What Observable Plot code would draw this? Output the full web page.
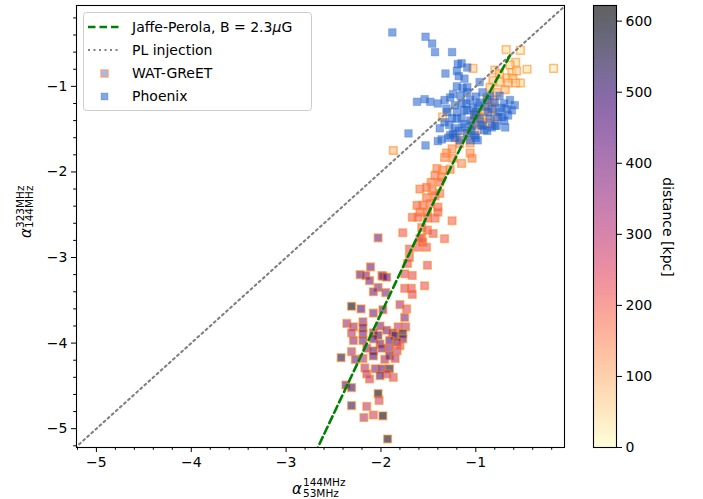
<!DOCTYPE html>
<html><head><meta charset="utf-8">
<script src="https://cdn.jsdelivr.net/npm/d3@7"></script>
<script src="https://cdn.jsdelivr.net/npm/@observablehq/plot@0.6"></script>
<style>
body{margin:0;background:#fff;}
#wrap{position:relative;width:703px;height:499px;font-family:"DejaVu Sans",sans-serif;}
#wrap svg{position:absolute;top:0;overflow:visible;}
</style></head><body><div id="wrap"></div>
<script>
// WAT-GReET: x = alpha 53-144 MHz, y = alpha 144-323 MHz, d = distance [kpc]
const watX = [-0.68,-0.53,-0.18,-0.46,-0.58,-0.64,-1.03,-0.80,-0.75,-0.62,-0.57,-0.67,-0.61,-0.53,-0.58,-0.66,-0.75,-0.82,-0.69,-0.78,
-0.85,-0.88,-0.82,-0.87,-0.83,-0.91,-1.01,-0.93,-0.85,-0.80,-0.99,-0.94,-1.03,-1.35,-1.87,-1.20,-1.09,-0.99,-1.06,-1.17,
-1.25,-1.31,-1.33,-1.24,-1.15,-1.06,-1.04,-1.41,-1.35,-1.27,-1.43,-1.36,-1.47,-1.38,-1.59,-1.52,-1.46,-1.38,-1.43,-1.52,
-1.62,-1.56,-1.48,-1.40,-1.59,-1.51,-1.40,-1.67,-1.61,-1.51,-1.43,-1.25,-1.57,-1.51,-1.77,-1.45,-1.33,-1.57,-1.56,-1.61,
-1.52,-1.70,-1.70,-1.72,-1.51,-1.75,-1.67,-1.54,-1.75,-1.68,-1.67,-1.59,
-2.03,-1.99,-2.11,-2.22,-2.16,-2.12,-1.98,-1.94,-2.03,-2.08,-1.95,-2.31,-2.21,-1.80,-1.73,-1.98,-2.08,-1.75,-2.19,-2.36,
-2.29,-2.19,-1.74,-1.82,-2.01,-2.31,-2.19,-2.08,-2.03,-1.94,-1.88,-1.85,-1.77,-1.77,-2.29,-2.19,-2.08,-2.01,-1.91,-1.83,
-2.15,-2.08,-1.99,-1.91,-1.83,-2.31,-2.42,-2.27,-2.19,-2.08,-1.96,-1.91,-1.85,-2.17,-2.06,-1.99,-1.91,-1.94,-2.15,-2.12,
-2.01,-1.87,-2.37,-2.31,-2.03,-2.02,-2.31,-2.15,-2.08,-1.98,-2.18,-1.93,-1.80];
const watY = [-0.57,-0.58,-0.79,-0.80,-0.72,-0.75,-0.79,-0.81,-0.85,-0.84,-0.82,-0.90,-0.91,-0.96,-0.96,-0.96,-0.95,-0.93,-1.04,-1.07,
-1.01,-1.13,-1.16,-1.22,-1.26,-1.30,-1.34,-1.36,-1.43,-1.36,-1.32,-1.42,-1.43,-1.36,-1.75,-1.60,-1.55,-1.51,-1.66,-1.67,
-1.73,-1.78,-1.83,-1.84,-1.90,-1.78,-1.84,-1.96,-1.98,-1.97,-2.04,-2.06,-2.12,-2.12,-2.20,-2.18,-2.22,-2.25,-2.28,-2.30,
-2.39,-2.39,-2.37,-2.41,-2.47,-2.47,-2.47,-2.53,-2.53,-2.54,-2.54,-2.57,-2.65,-2.68,-2.71,-2.72,-2.78,-2.77,-2.82,-2.88,
-2.88,-2.90,-3.00,-3.07,-3.09,-3.19,-3.21,-3.33,-3.36,-3.36,-3.43,-2.78,
-2.77,-3.21,-3.11,-3.20,-3.21,-3.27,-3.22,-3.23,-3.35,-3.40,-3.41,-3.57,-3.60,-3.55,-3.60,-3.61,-3.65,-3.70,-3.75,-3.77,
-3.81,-3.82,-3.81,-3.81,-3.80,-3.88,-3.89,-3.88,-3.91,-3.85,-3.88,-3.91,-3.89,-3.95,-3.97,-3.97,-3.95,-4.01,-3.97,-3.99,
-4.06,-4.09,-4.06,-4.06,-4.09,-4.10,-4.17,-4.19,-4.18,-4.15,-4.19,-4.15,-4.18,-4.29,-4.30,-4.30,-4.30,-4.36,-4.36,-4.42,
-4.38,-4.40,-4.49,-4.52,-4.59,-4.67,-4.73,-4.74,-4.84,-4.85,-4.87,-5.12,-4.03];
const watD = [40,30,20,40,50,60,70,60,70,50,60,70,60,40,70,80,70,80,90,90,
80,100,100,110,110,120,120,110,120,100,130,120,130,60,90,140,130,120,140,150,
150,160,150,160,150,150,160,170,160,170,180,170,180,190,180,190,180,190,200,190,
200,190,200,210,200,210,220,210,200,220,210,200,210,220,220,230,210,230,240,230,
220,240,230,250,240,250,240,230,250,240,250,220,
420,430,430,440,400,420,410,440,400,420,400,600,470,340,250,430,420,400,380,360,
360,480,300,320,400,330,420,380,500,420,380,520,560,450,380,420,460,440,470,480,
400,450,430,400,300,340,540,420,330,480,350,470,320,330,400,450,560,300,320,290,
480,260,460,500,600,270,520,300,280,600,330,580,240];

// Phoenix
const phxX = [-1.88,-1.53,-1.46,-1.43,-1.25,-1.19,-1.09,-1.32,-1.20,-1.18,
-1.12,-1.20,-1.14,-1.09,-0.96,-1.62,-1.54,-1.48,-1.40,-1.33,
-1.27,-1.24,-1.16,-1.09,-1.00,-1.15,-1.71,-1.53,-1.40,-1.36,
-1.27,-1.24,-1.25,-1.15,-1.09,-1.03,-0.96,-0.88,-0.80,-0.73,
-0.67,-0.72,-0.77,-0.83,-0.93,-1.22,-1.14,-1.06,-1.22,-1.29,
-0.78,-0.91,-0.96,-1.20,-1.15,-1.06,-1.00,-0.87,-0.82,-0.66,
-0.64,-0.59,-1.09,-1.01,-1.17,-1.06,-0.98,-1.31,-1.22,-0.93,
-0.85,-1.04,-1.33,-1.38,-0.75,-0.69,
-1.10,-1.02,-0.90,-0.85,-0.95,-1.12,-1.18,-0.70,-0.75,-1.05,
-0.88,-1.28,-1.20,-0.98,-0.62,-1.12,-0.80,-1.00,-1.30,-0.70];
const phxY = [-0.37,-0.42,-0.50,-0.60,-0.60,-0.74,-0.78,-0.85,-0.82,-0.88,
-0.91,-1.00,-1.02,-1.01,-0.95,-1.18,-1.15,-1.18,-1.20,-1.16,
-1.13,-1.09,-1.11,-1.07,-1.12,-0.73,-1.55,-1.69,-1.64,-1.62,
-1.57,-1.55,-1.37,-1.37,-1.28,-1.25,-1.19,-1.16,-1.19,-1.25,
-1.26,-1.36,-1.36,-1.48,-1.46,-1.49,-1.48,-1.40,-1.60,-1.60,
-1.46,-1.51,-1.37,-1.30,-1.20,-1.16,-1.30,-1.30,-1.26,-1.34,
-1.16,-1.22,-1.54,-1.57,-1.63,-1.63,-1.63,-1.26,-1.22,-1.07,
-1.11,-1.46,-1.42,-1.49,-1.11,-1.48,
-1.20,-1.33,-1.24,-1.38,-1.45,-1.44,-1.52,-1.20,-1.30,-1.52,
-1.52,-1.45,-1.38,-1.22,-1.28,-1.28,-1.46,-1.60,-1.30,-1.40];

// Jaffe-Perola model curve (B = 2.3 uG)
const jpX = [-2.70,-1.87,-1.40,-1.00,-0.62];
const jpY = [-5.30,-3.35,-2.25,-1.36,-0.60];
// PL injection (y = x)
const plX = [-6, 0];
const plY = [-6, 0];

const xTicks = [-5,-4,-3,-2,-1];
const yTicks = [-5,-4,-3,-2,-1];
const cbTicks = [0,100,200,300,400,500,600];
const xDomain = [-5.21,-0.065];
const yDomain = [-5.22,-0.055];
const dMax = 622;

const fmt = d => String(d).replace("-", "\u2212");
const colorOpts = {type:"linear", scheme:"magma", reverse:true, domain:[0,dMax]};
const wat = watX.map((x,i)=>({x, y:watY[i], d:watD[i]}));
const phx = phxX.map((x,i)=>({x, y:phxY[i]}));
const jp = jpX.map((x,i)=>({x, y:jpY[i]}));
const pl = plX.map((x,i)=>({x, y:plY[i]}));
const minorOf = dom => d3.range(-30, 1).map(i=>i/5).filter(v=>v>=dom[0] && v<=dom[1] && Math.abs(v-Math.round(v))>1e-9);

const wrap = document.getElementById("wrap");
const main = Plot.plot({
  width:703, height:499, marginLeft:76, marginRight:139, marginTop:5, marginBottom:52,
  x:{domain:xDomain}, y:{domain:yDomain},
  color:colorOpts,
  style:{fontFamily:"DejaVu Sans", fontSize:"14px", color:"#000", background:"transparent"},
  marks:[
    Plot.dot(wat,{x:"x", y:"y", fill:"d", fillOpacity:0.6, stroke:"#ff7f0e", strokeOpacity:0.5, strokeWidth:1.5, symbol:"square", r:4.3}),
    Plot.dot(phx,{x:"x", y:"y", fill:"#1f5fcc", fillOpacity:0.55, stroke:"#1f5fcc", strokeOpacity:0.25, strokeWidth:1, symbol:"square", r:4.3}),
    Plot.line(pl,{x:"x", y:"y", stroke:"#808080", strokeWidth:2.1, strokeDasharray:"2,3.5", clip:true}),
    Plot.line(jp,{x:"x", y:"y", stroke:"#008000", strokeWidth:2.6, strokeDasharray:"7.5,4", clip:true}),
    Plot.axisX({ticks:xTicks, tickSize:5, tickPadding:5, tickFormat:fmt, label:null}),
    Plot.axisX({ticks:minorOf(xDomain), tickSize:2.8, tickFormat:()=>"", label:null}),
    Plot.axisY({ticks:yTicks, tickSize:5, tickPadding:4, tickFormat:fmt, label:null}),
    Plot.axisY({ticks:minorOf(yDomain), tickSize:2.8, tickFormat:()=>"", label:null}),
    Plot.frame({stroke:"#000", strokeWidth:1.1})
  ]
});
main.style.left = "0px";
wrap.appendChild(main);

// colorbar
const cbData = d3.range(0, dMax, 2).map(v=>({v}));
const cb = Plot.plot({
  width:110, height:499, marginLeft:0, marginRight:87, marginTop:5, marginBottom:52,
  x:{domain:[0,1], axis:null}, y:{domain:[0,dMax]},
  color:colorOpts,
  style:{fontFamily:"DejaVu Sans", fontSize:"14px", color:"#000", background:"transparent"},
  marks:[
    Plot.rect(cbData,{x1:0, x2:1, y1:"v", y2:d=>Math.min(dMax, d.v+2), fill:"v", fillOpacity:0.62, shapeRendering:"crispEdges"}),
    Plot.axisY({anchor:"right", ticks:cbTicks, tickSize:5, tickPadding:4, label:null}),
    Plot.frame({stroke:"#000", strokeWidth:1.1})
  ]
});
cb.style.left = "593px";
wrap.appendChild(cb);

// labels & legend overlay
const ov = d3.select(wrap).append("svg").attr("width",703).attr("height",499).style("left","0px")
  .style("font-family","DejaVu Sans, sans-serif").style("pointer-events","none");

// y label
const gy = ov.append("g").attr("transform","translate(31,238) rotate(-90)");
gy.append("text").attr("x",0).attr("y",0).attr("font-size",15).attr("font-style","italic").text("α");
gy.append("text").attr("x",10).attr("y",-7.5).attr("font-size",10.5).text("323MHz");
gy.append("text").attr("x",10).attr("y",1.5).attr("font-size",10.5).text("144MHz");

// x label
const gx = ov.append("g").attr("transform","translate(292,494)");
gx.append("text").attr("x",0).attr("y",0).attr("font-size",15).attr("font-style","italic").text("α");
gx.append("text").attr("x",11).attr("y",-8).attr("font-size",10.5).text("144MHz");
gx.append("text").attr("x",11).attr("y",3).attr("font-size",10.5).text("53MHz");

// colorbar label
ov.append("text").attr("transform","translate(663,227) rotate(90)").attr("text-anchor","middle")
  .attr("font-size",14).text("distance [kpc]");

// legend
const lg = ov.append("g");
lg.append("rect").attr("x",83.5).attr("y",12.5).attr("width",228).attr("height",98).attr("rx",3)
  .attr("fill","#fff").attr("fill-opacity",0.85).attr("stroke","#cccccc");
lg.append("line").attr("x1",88).attr("x2",121).attr("y1",27).attr("y2",27)
  .attr("stroke","#008000").attr("stroke-width",2.6).attr("stroke-dasharray","7.5,4");
lg.append("line").attr("x1",88).attr("x2",121).attr("y1",50).attr("y2",50)
  .attr("stroke","#808080").attr("stroke-width",2.1).attr("stroke-dasharray","2,3.5");
lg.append("rect").attr("x",101).attr("y",70).attr("width",7).attr("height",7)
  .attr("fill","#9ebfe3").attr("stroke","#f4a07a").attr("stroke-width",1.3);
lg.append("rect").attr("x",101).attr("y",93).attr("width",7).attr("height",7)
  .attr("fill","#1f5fcc").attr("fill-opacity",0.55).attr("stroke","#1f5fcc").attr("stroke-opacity",0.25);
const t1 = lg.append("text").attr("x",132).attr("y",32).attr("font-size",14);
t1.append("tspan").text("Jaffe-Perola, B = 2.3");
t1.append("tspan").attr("font-style","italic").text("μ");
t1.append("tspan").text("G");
lg.append("text").attr("x",132).attr("y",55).attr("font-size",14).text("PL injection");
lg.append("text").attr("x",132).attr("y",78).attr("font-size",14).text("WAT-GReET");
lg.append("text").attr("x",132).attr("y",101).attr("font-size",14).text("Phoenix");
</script></body></html>
